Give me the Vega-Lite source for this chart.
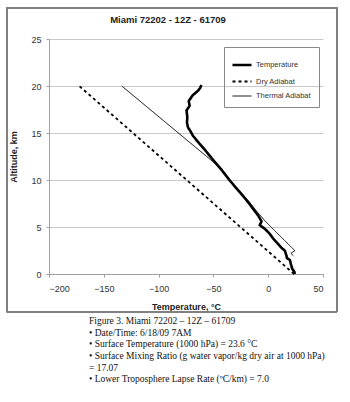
{
  "$schema": "https://vega.github.io/schema/vega-lite/v6.json",
  "padding": {"left": 6, "top": 7, "right": 0, "bottom": 0},
  "background": "white",
  "spacing": 2,
  "config": {
    "view": {"stroke": null},
    "font": "Liberation Sans",
    "axis": {
      "labelFont": "Liberation Sans",
      "labelFontSize": 9,
      "labelColor": "#333",
      "titleFont": "Liberation Sans",
      "titleFontSize": 9,
      "titleFontWeight": "bold",
      "titleColor": "#222",
      "domainColor": "#a0a0a0",
      "tickColor": "#a0a0a0",
      "tickSize": 3,
      "gridColor": "#c8c8c8"
    }
  },
  "vconcat": [
    {
      "width": 274,
      "height": 235,
      "title": {
        "text": "Miami 72202 - 12Z - 61709",
        "font": "Liberation Sans",
        "fontSize": 9.5,
        "fontWeight": "bold",
        "color": "#222",
        "anchor": "middle",
        "frame": "group",
        "dx": -18,
        "offset": -17
      },
      "data": {
        "values": [
          {"series": "Temperature", "i": 0, "t": 24.3, "alt": 0.0},
          {"series": "Temperature", "i": 1, "t": 23.8, "alt": 0.25},
          {"series": "Temperature", "i": 2, "t": 22.0, "alt": 0.53},
          {"series": "Temperature", "i": 3, "t": 21.3, "alt": 0.8},
          {"series": "Temperature", "i": 4, "t": 20.7, "alt": 1.06},
          {"series": "Temperature", "i": 5, "t": 19.8, "alt": 1.49},
          {"series": "Temperature", "i": 6, "t": 17.0, "alt": 1.7},
          {"series": "Temperature", "i": 7, "t": 16.8, "alt": 1.9},
          {"series": "Temperature", "i": 8, "t": 15.2, "alt": 2.48},
          {"series": "Temperature", "i": 9, "t": 12.0, "alt": 2.8},
          {"series": "Temperature", "i": 10, "t": 9.1, "alt": 3.19},
          {"series": "Temperature", "i": 11, "t": 5.0, "alt": 3.7},
          {"series": "Temperature", "i": 12, "t": 1.5, "alt": 4.26},
          {"series": "Temperature", "i": 13, "t": -3.0, "alt": 4.8},
          {"series": "Temperature", "i": 14, "t": -7.7, "alt": 5.2},
          {"series": "Temperature", "i": 15, "t": -6.1, "alt": 5.6},
          {"series": "Temperature", "i": 16, "t": -9.0, "alt": 6.2},
          {"series": "Temperature", "i": 17, "t": -12.3, "alt": 6.7},
          {"series": "Temperature", "i": 18, "t": -18.0, "alt": 7.6},
          {"series": "Temperature", "i": 19, "t": -24.4, "alt": 8.5},
          {"series": "Temperature", "i": 20, "t": -27.4, "alt": 8.9},
          {"series": "Temperature", "i": 21, "t": -35.4, "alt": 10.0},
          {"series": "Temperature", "i": 22, "t": -42.7, "alt": 11.1},
          {"series": "Temperature", "i": 23, "t": -50.0, "alt": 12.1},
          {"series": "Temperature", "i": 24, "t": -57.0, "alt": 13.1},
          {"series": "Temperature", "i": 25, "t": -63.0, "alt": 13.9},
          {"series": "Temperature", "i": 26, "t": -68.6, "alt": 14.7},
          {"series": "Temperature", "i": 27, "t": -71.0, "alt": 15.2},
          {"series": "Temperature", "i": 28, "t": -73.2, "alt": 15.6},
          {"series": "Temperature", "i": 29, "t": -74.1, "alt": 16.1},
          {"series": "Temperature", "i": 30, "t": -73.8, "alt": 16.7},
          {"series": "Temperature", "i": 31, "t": -74.5, "alt": 17.4},
          {"series": "Temperature", "i": 32, "t": -71.7, "alt": 17.9},
          {"series": "Temperature", "i": 33, "t": -72.5, "alt": 18.4},
          {"series": "Temperature", "i": 34, "t": -69.0, "alt": 19.0},
          {"series": "Temperature", "i": 35, "t": -64.0, "alt": 19.5},
          {"series": "Temperature", "i": 36, "t": -62.0, "alt": 19.8},
          {"series": "Temperature", "i": 37, "t": -61.0, "alt": 20.1},
          {"series": "Dry Adiabat", "i": 0, "t": 23.6, "alt": 0.0},
          {"series": "Dry Adiabat", "i": 1, "t": -172.4, "alt": 20.0},
          {"series": "Thermal Adiabat", "i": 0, "t": 22.9, "alt": 1.95},
          {"series": "Thermal Adiabat", "i": 1, "t": 20.7, "alt": 2.2},
          {"series": "Thermal Adiabat", "i": 2, "t": 24.4, "alt": 2.48},
          {"series": "Thermal Adiabat", "i": 3, "t": 21.3, "alt": 2.83},
          {"series": "Thermal Adiabat", "i": 4, "t": 15.2, "alt": 3.54},
          {"series": "Thermal Adiabat", "i": 5, "t": 6.0, "alt": 4.6},
          {"series": "Thermal Adiabat", "i": 6, "t": -3.1, "alt": 5.67},
          {"series": "Thermal Adiabat", "i": 7, "t": -10.0, "alt": 6.6},
          {"series": "Thermal Adiabat", "i": 8, "t": -16.8, "alt": 7.6},
          {"series": "Thermal Adiabat", "i": 9, "t": -26.0, "alt": 8.8},
          {"series": "Thermal Adiabat", "i": 10, "t": -36.0, "alt": 10.0},
          {"series": "Thermal Adiabat", "i": 11, "t": -42.7, "alt": 11.2},
          {"series": "Thermal Adiabat", "i": 12, "t": -133.6, "alt": 20.0}
        ]
      },
      "layer": [
        {
          "mark": {"type": "rect", "filled": false, "stroke": "#808080", "strokeWidth": 1},
          "encoding": {
            "x": {"datum": -238.5, "type": "quantitative"},
            "x2": {"datum": 62.5},
            "y": {"datum": 28.33, "type": "quantitative"},
            "y2": {"datum": -4.0}
          }
        },
        {
          "mark": {"type": "line", "color": "#000"},
          "encoding": {
            "x": {
              "field": "t", "type": "quantitative",
              "scale": {"domain": [-200, 50], "nice": false, "zero": false},
              "axis": {"values": [-200, -150, -100, -50, 0, 50], "grid": false, "title": "Temperature, \u00b0C", "labelPadding": 7, "titlePadding": 9}
            },
            "y": {
              "field": "alt", "type": "quantitative",
              "scale": {"domain": [0, 25], "nice": false, "zero": false},
              "axis": {"values": [0, 5, 10, 15, 20, 25], "grid": true, "title": "Altitude, km", "labelPadding": 5, "titlePadding": 12}
            },
            "order": {"field": "i", "type": "quantitative"},
            "strokeDash": {
              "field": "series", "type": "nominal",
              "scale": {"domain": ["Temperature", "Dry Adiabat", "Thermal Adiabat"], "range": [[1, 0], [3, 3], [1, 0]]},
              "legend": {
                "title": null,
                "orient": "none",
                "legendX": 175,
                "legendY": 8,
                "strokeColor": "#888",
                "padding": 7,
                "symbolType": "stroke",
                "symbolSize": 361,
                "symbolStrokeColor": "#000",
                "labelFontSize": 7.5,
                "labelColor": "#333",
                "rowPadding": -3,
                "labelOffset": 3
              }
            },
            "strokeWidth": {
              "field": "series", "type": "nominal",
              "scale": {"domain": ["Temperature", "Dry Adiabat", "Thermal Adiabat"], "range": [2.6, 1, 1]}
            }
          }
        }
      ]
    },
    {
      "width": 274,
      "height": 70,
      "data": {
        "values": [
          {"line": 1, "text": "Figure 3. Miami 72202 \u2013 12Z \u2013 61709"},
          {"line": 2, "text": "\u00a0\u2022 Date/Time: 6/18/09 7AM"},
          {"line": 3, "text": "\u00a0\u2022 Surface Temperature (1000 hPa) = 23.6 \u00b0C"},
          {"line": 4, "text": "\u00a0\u2022 Surface Mixing Ratio (g water vapor/kg dry air at 1000 hPa)"},
          {"line": 5, "text": "\u00a0\u00a0\u00a0= 17.07"},
          {"line": 6, "text": "\u00a0\u2022 Lower Troposphere Lapse Rate (\u00baC/km) = 7.0"}
        ]
      },
      "mark": {"type": "text", "align": "left", "baseline": "middle", "font": "Liberation Serif", "fontSize": 9.5, "color": "#111"},
      "encoding": {
        "y": {"field": "line", "type": "ordinal", "axis": null, "scale": {"paddingOuter": 0.5}},
        "x": {"value": 40},
        "text": {"field": "text"}
      }
    }
  ]
}
